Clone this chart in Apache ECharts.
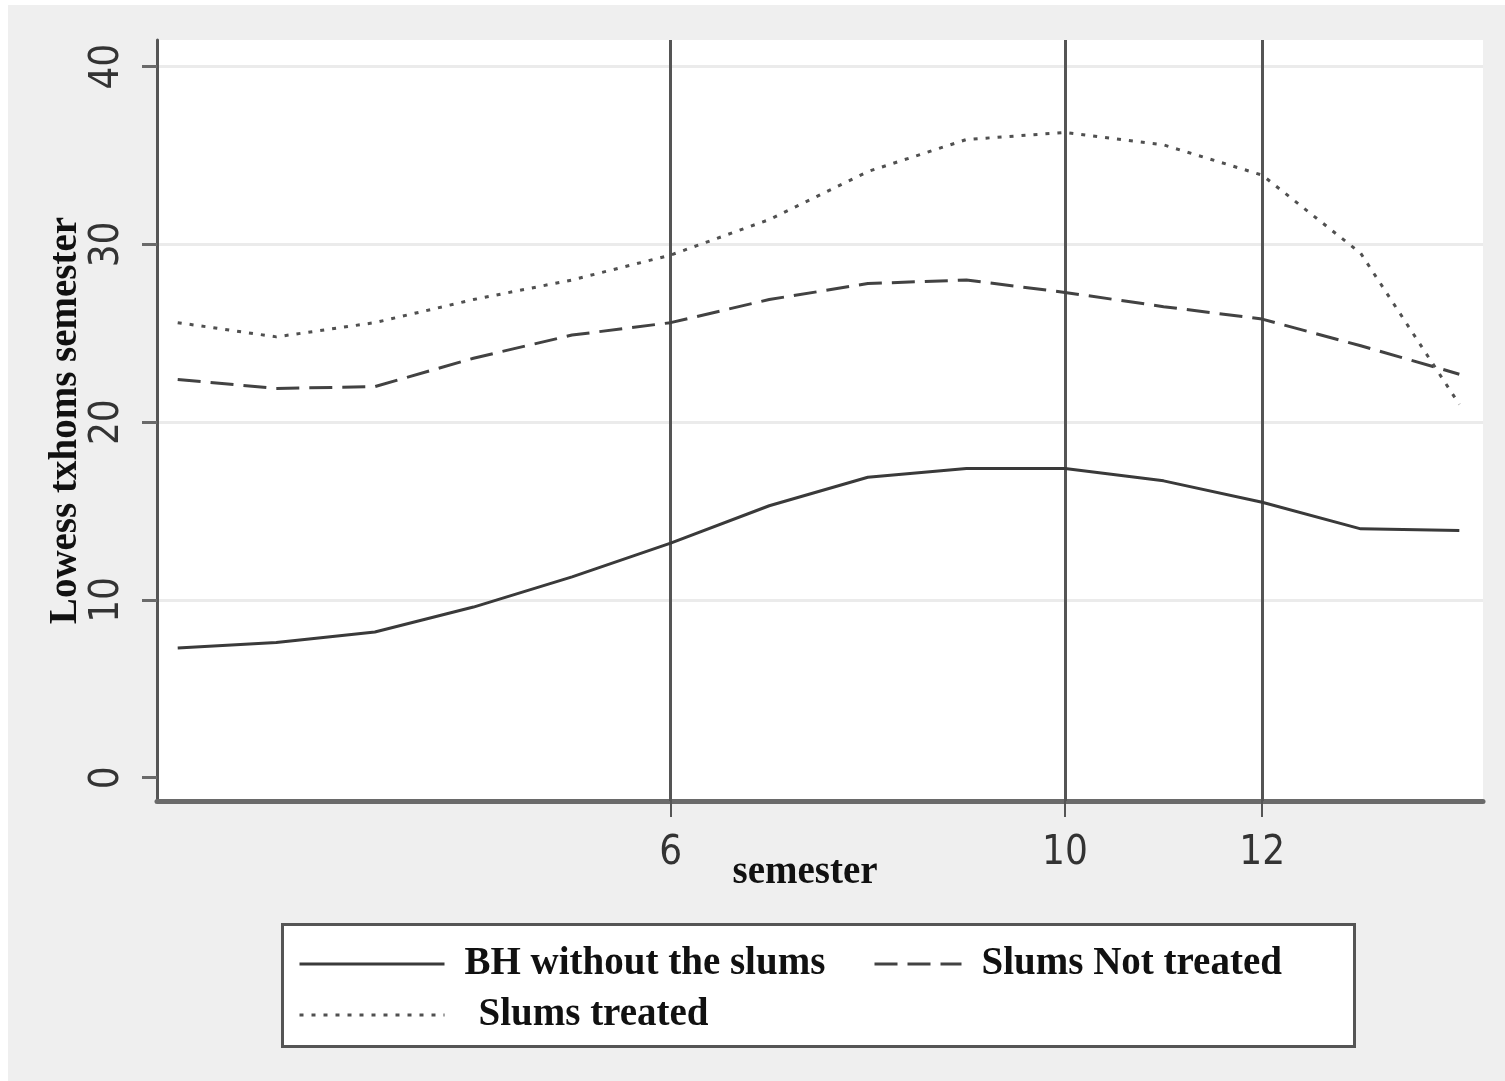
<!DOCTYPE html>
<html>
<head>
<meta charset="utf-8">
<script src="https://cdn.jsdelivr.net/npm/echarts@6/dist/echarts.min.js"></script>
<style>
  html, body { margin: 0; padding: 0; background: #ffffff; }
  #chart { position: absolute; left: 0; top: 0; width: 1505px; height: 1081px;
           border-left: 8px solid #fff; border-top: 5px solid #fff; box-sizing: border-box; }
</style>
</head>
<body>
<div id="chart"></div>
<script>
// ---- data ----
const semesters = [1, 2, 3, 4, 5, 6, 7, 8, 9, 10, 11, 12, 13, 14];
const bhWithoutSlums = [7.3, 7.6, 8.2, 9.6, 11.3, 13.2, 15.3, 16.9, 17.4, 17.4, 16.7, 15.5, 14.0, 13.9];
const slumsNotTreated = [22.4, 21.9, 22.0, 23.6, 24.9, 25.6, 26.9, 27.8, 28.0, 27.3, 26.5, 25.8, 24.3, 22.7];
const slumsTreated = [25.6, 24.8, 25.6, 26.9, 28.0, 29.4, 31.4, 34.1, 35.9, 36.3, 35.6, 33.9, 29.5, 21.0];
const xTicks = [6, 10, 12];
const yTicks = [0, 10, 20, 30, 40];
const xLines = [6, 10, 12];
const seriesNames = ['BH without the slums', 'Slums Not treated', 'Slums treated'];

const pairs = (vals) => semesters.map((s, i) => [s, vals[i]]);

const serifFont = "'Liberation Serif', 'Times New Roman', serif";
const sansFont = "'Liberation Sans Narrow', 'Arial Narrow', 'DejaVu Sans Condensed', 'Liberation Sans', sans-serif";

const chart = echarts.init(document.getElementById('chart'), null, { renderer: 'canvas' });

const legendText = (padTop, padLeft) => ({
  fontFamily: serifFont, fontWeight: 'bold', fontSize: 39, color: '#111',
  padding: [padTop, 0, 0, padLeft], lineHeight: 44
});
const legendCommon = {
  padding: 0, itemHeight: 6, z: 5,
  itemStyle: { opacity: 0 },
  lineStyle: { width: 3 }
};

chart.setOption({
  animation: false,
  backgroundColor: '#efefef',
  grid: {
    left: 149, top: 35, right: 22, bottom: 280,
    show: true, backgroundColor: '#ffffff', borderWidth: 0
  },
  graphic: [{
    type: 'rect',
    left: 273, top: 918,
    shape: { width: 1072, height: 122 },
    style: { fill: '#ffffff', stroke: '#555555', lineWidth: 3 },
    z: 0
  }],
  legend: [
    Object.assign({}, legendCommon, {
      data: [seriesNames[0]], left: 290, top: 931,
      itemWidth: 145, textStyle: legendText(12, 15)
    }),
    Object.assign({}, legendCommon, {
      data: [seriesNames[1]], left: 865, top: 931,
      itemWidth: 87, textStyle: legendText(12, 15)
    }),
    Object.assign({}, legendCommon, {
      data: [seriesNames[2]], left: 290, top: 986,
      itemWidth: 145, textStyle: legendText(4, 29)
    })
  ],
  xAxis: {
    type: 'value',
    min: 0.79, max: 14.24,
    name: 'semester',
    nameLocation: 'middle',
    nameGap: 52,
    nameMoveOverlap: false,
    nameTextStyle: {
      fontFamily: serifFont, fontWeight: 'bold', fontSize: 39, color: '#111',
      padding: [0, 30, 0, 0]
    },
    axisLine: { show: true, onZero: false, lineStyle: { color: '#6a6a6a', width: 5 } },
    axisTick: { show: true, customValues: xTicks, length: 16, lineStyle: { color: '#555', width: 2 } },
    axisLabel: {
      customValues: xTicks, margin: 33,
      fontFamily: sansFont, fontSize: 40, color: '#333'
    },
    splitLine: { show: false }
  },
  yAxis: {
    type: 'value',
    min: -1.31, max: 41.5,
    name: 'Lowess txhoms semester',
    nameLocation: 'middle',
    nameGap: 72,
    nameMoveOverlap: false,
    nameRotate: 90,
    nameTextStyle: { fontFamily: serifFont, fontWeight: 'bold', fontSize: 39, color: '#111' },
    axisLine: { show: true, onZero: false, lineStyle: { color: '#555', width: 3 } },
    axisTick: { show: true, customValues: yTicks, length: 15, lineStyle: { color: '#6a6a6a', width: 3 } },
    axisLabel: {
      customValues: yTicks, rotate: 90, margin: 29,
      fontFamily: sansFont, fontSize: 40, color: '#333'
    },
    splitLine: { show: true, showMinLine: false, showMaxLine: true, lineStyle: { color: '#ebebeb', width: 3 } }
  },
  series: [
    {
      name: seriesNames[0], type: 'line', data: pairs(bhWithoutSlums),
      symbol: 'none', smooth: false, z: 3,
      lineStyle: { color: '#3a3a3a', width: 3, type: 'solid' },
      itemStyle: { color: '#3a3a3a' },
      markLine: {
        silent: true, symbol: ['none', 'none'], label: { show: false },
        lineStyle: { color: '#555', width: 3, type: 'solid' },
        data: xLines.map(v => ({ xAxis: v })),
        z: 2
      }
    },
    {
      name: seriesNames[1], type: 'line', data: pairs(slumsNotTreated),
      symbol: 'none', smooth: false, z: 3,
      lineStyle: { color: '#424242', width: 3, type: [23, 10] },
      itemStyle: { color: '#424242' }
    },
    {
      name: seriesNames[2], type: 'line', data: pairs(slumsTreated),
      symbol: 'none', smooth: false, z: 3,
      lineStyle: { color: '#505050', width: 3, type: [4, 8] },
      itemStyle: { color: '#505050' }
    }
  ]
});
</script>
</body>
</html>
